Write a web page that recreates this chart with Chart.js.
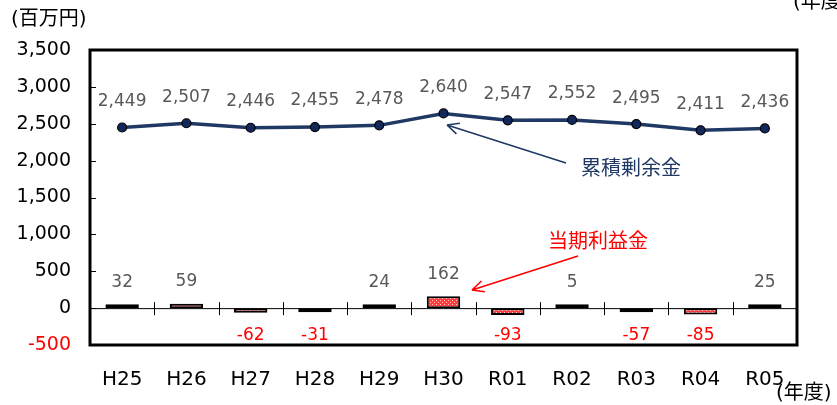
<!DOCTYPE html>
<html>
<head>
<meta charset="utf-8">
<script src="https://cdn.jsdelivr.net/npm/chart.js@4.4.0/dist/chart.umd.min.js"></script>
<style>
  html, body { margin: 0; padding: 0; background: #fff; }
  #wrap { width: 837px; height: 405px; }
</style>
</head>
<body>
<div id="wrap"><canvas id="grafica" width="837" height="405"></canvas></div>
<script>
// Datos
const nendo = ['H25', 'H26', 'H27', 'H28', 'H29', 'H30', 'R01', 'R02', 'R03', 'R04', 'R05'];
const ruisekiJoyokin = [2449, 2507, 2446, 2455, 2478, 2640, 2547, 2552, 2495, 2411, 2436];
const tokiRiekikin = [32, 59, -62, -31, 24, 162, -93, 5, -57, -85, 25];
const yTicks = [-500, 0, 500, 1000, 1500, 2000, 2500, 3000, 3500];

const FUENTE = "'DejaVu Sans', 'Noto Sans CJK JP', sans-serif";
const AZUL = '#1f3864';
const ROJO = '#ff0000';
const GRIS = '#595959';

// Patrón punteado para las barras
function crearPatron() {
    const c = document.createElement('canvas');
    c.width = 4; c.height = 4;
    const g = c.getContext('2d');
    g.fillStyle = '#ff3b3b';
    g.fillRect(0, 0, 4, 4);
    g.fillStyle = '#ffd0d0';
    g.fillRect(0, 0, 1, 1);
    g.fillRect(2, 2, 1, 1);
    return g.createPattern(c, 'repeat');
}

function fmt(v) { return v.toLocaleString('en-US'); }

function flecha(ctx, x1, y1, x2, y2, color) {
    ctx.save();
    ctx.strokeStyle = color;
    ctx.lineWidth = 1.6;
    ctx.beginPath();
    ctx.moveTo(x1, y1);
    ctx.lineTo(x2, y2);
    const a = Math.atan2(y2 - y1, x2 - x1);
    const L = 13;
    ctx.moveTo(x2, y2);
    ctx.lineTo(x2 - L * Math.cos(a - 0.45), y2 - L * Math.sin(a - 0.45));
    ctx.moveTo(x2, y2);
    ctx.lineTo(x2 - L * Math.cos(a + 0.45), y2 - L * Math.sin(a + 0.45));
    ctx.stroke();
    ctx.restore();
}

const decoraciones = {
    id: 'decoraciones',
    beforeDatasetsDraw(chart) {
        const ctx = chart.ctx;
        const a = chart.chartArea;
        const x = chart.scales.x;
        const y = chart.scales.y;
        const y0 = y.getPixelForValue(0);
        ctx.save();
        // línea cero
        ctx.strokeStyle = '#000';
        ctx.lineWidth = 1;
        ctx.beginPath();
        ctx.moveTo(a.left, y0 + 0.5);
        ctx.lineTo(a.right, y0 + 0.5);
        ctx.stroke();
        // marcas del eje x
        for (let i = 1; i < nendo.length; i++) {
            const px = Math.round((x.getPixelForValue(i - 1) + x.getPixelForValue(i)) / 2) + 0.5;
            ctx.beginPath();
            ctx.moveTo(px, y0 - 6);
            ctx.lineTo(px, y0 + 7);
            ctx.stroke();
        }
        // marcas del eje y
        yTicks.forEach(v => {
            const py = Math.round(y.getPixelForValue(v)) + 0.5;
            ctx.beginPath();
            ctx.moveTo(a.left, py);
            ctx.lineTo(a.left + 6, py);
            ctx.stroke();
        });
        ctx.restore();
    },
    afterDraw(chart) {
        const ctx = chart.ctx;
        const a = chart.chartArea;
        const meta0 = chart.getDatasetMeta(0);
        const meta1 = chart.getDatasetMeta(1);
        ctx.save();
        // marco
        ctx.strokeStyle = '#000';
        ctx.lineWidth = 3;
        ctx.strokeRect(a.left, a.top, a.right - a.left, a.bottom - a.top);

        ctx.font = '17px ' + FUENTE;
        ctx.textAlign = 'center';
        ctx.textBaseline = 'middle';
        // etiquetas de la línea
        meta0.data.forEach((p, i) => {
            ctx.fillStyle = GRIS;
            ctx.fillText(fmt(ruisekiJoyokin[i]), p.x, p.y - 26);
        });
        // etiquetas de las barras
        const y0 = chart.scales.y.getPixelForValue(0);
        meta1.data.forEach((b, i) => {
            const v = tokiRiekikin[i];
            if (v >= 0) {
                ctx.fillStyle = GRIS;
                ctx.fillText(fmt(v), b.x, Math.min(b.y, y0) - 22);
            } else {
                ctx.fillStyle = ROJO;
                ctx.fillText(fmt(v), b.x, y0 + 27);
            }
        });

        // textos de unidades
        ctx.fillStyle = '#000';
        ctx.font = '20px ' + FUENTE;
        ctx.textAlign = 'left';
        ctx.fillText('(百万円)', 11, 20);
        ctx.fillText('(年度)', 776, 394);
        ctx.fillText('(年度', 793, 3);

        // anotaciones
        ctx.font = '20px ' + FUENTE;
        ctx.fillStyle = AZUL;
        ctx.fillText('累積剰余金', 581, 170);
        flecha(ctx, 566, 163, 447, 125, AZUL);
        ctx.fillStyle = ROJO;
        ctx.fillText('当期利益金', 548, 243);
        flecha(ctx, 578, 256, 472, 290, ROJO);
        ctx.restore();
    }
};

new Chart(document.getElementById('grafica'), {
    data: {
        labels: nendo,
        datasets: [{
            type: 'line',
            label: '累積剰余金',
            data: ruisekiJoyokin,
            borderColor: AZUL,
            borderWidth: 3.5,
            pointRadius: 4.5,
            pointBackgroundColor: '#13285a',
            pointBorderColor: '#000',
            pointBorderWidth: 1.2,
            tension: 0,
            order: 0
        }, {
            type: 'bar',
            label: '当期利益金',
            data: tokiRiekikin,
            backgroundColor: crearPatron(),
            borderColor: '#000',
            borderWidth: 2,
            borderSkipped: false,
            minBarLength: 4,
            barPercentage: 0.52,
            categoryPercentage: 1,
            order: 1
        }]
    },
    options: {
        responsive: false,
        animation: false,
        layout: { padding: { top: 50, right: 40, left: 0, bottom: 0 } },
        plugins: {
            legend: { display: false },
            tooltip: { enabled: false }
        },
        scales: {
            x: {
                grid: { display: false, drawTicks: false },
                border: { display: false },
                ticks: {
                    color: '#000',
                    padding: 23,
                    font: { size: 20, family: FUENTE }
                },
                afterFit(s) { s.height = 60; }
            },
            y: {
                min: -500,
                max: 3500,
                grid: { display: false, drawTicks: false },
                border: { display: false },
                afterBuildTicks(s) { s.ticks = yTicks.map(v => ({ value: v })); },
                ticks: {
                    color: ctx => ctx.tick.value < 0 ? ROJO : '#000',
                    padding: 19,
                    font: { size: 19, family: FUENTE },
                    callback: v => fmt(v)
                },
                afterFit(s) { s.width = 90; }
            }
        }
    },
    plugins: [decoraciones]
});
</script>
</body>
</html>
